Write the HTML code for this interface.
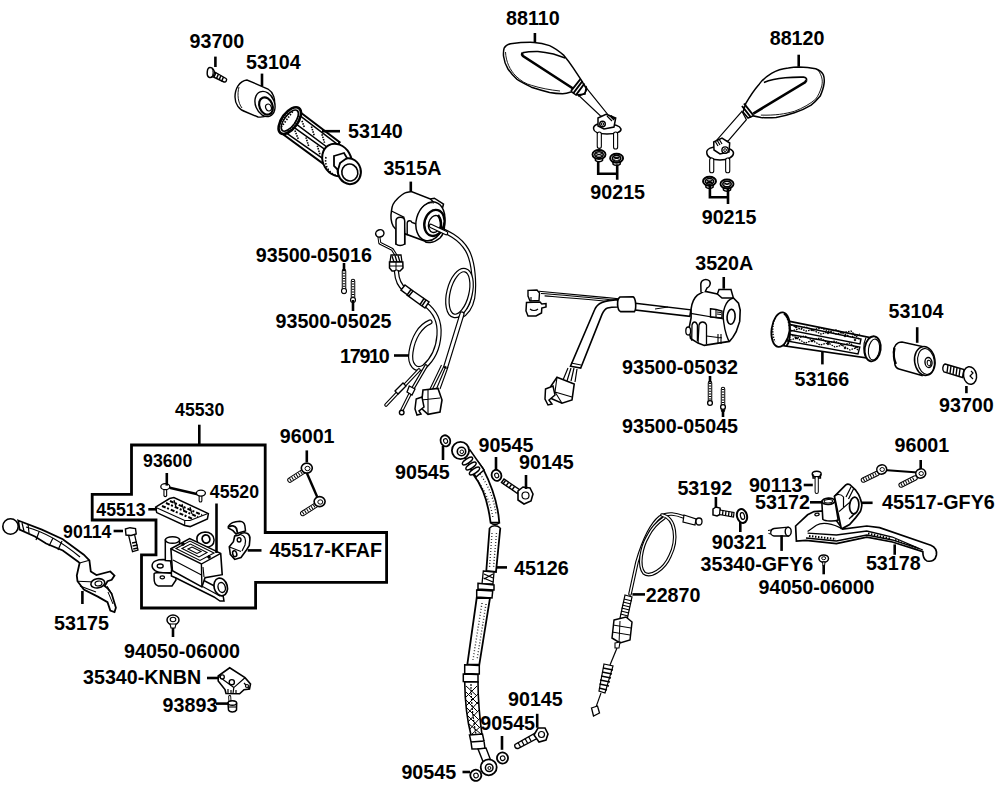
<!DOCTYPE html>
<html><head><meta charset="utf-8"><style>
html,body{margin:0;padding:0;background:#fff;width:1000px;height:788px;overflow:hidden}
svg{display:block}
text{font-family:"Liberation Sans",sans-serif;font-weight:bold;fill:#000}
</style></head><body>
<svg width="1000" height="788" viewBox="0 0 1000 788">
<rect width="1000" height="788" fill="#fff"/>
<path d="M213,71 L226,78.5 C227.5,79.5 226,82.5 224,82 L211,76 Z" fill="#fff" stroke="#000" stroke-width="1.4" /><path d="M216,72.5 L214,77 M218.5,74 L216.5,78.5 M221,75.5 L219,80 M223.5,77 L221.5,81.5" fill="none" stroke="#000" stroke-width="1.5" /><path d="M210,67.6 C213,67.6 214.5,70.5 214.3,73 C214,76 212,77.8 209.5,77.4 C207.5,77 207,74 207.3,71.5 C207.6,69 208.5,67.6 210,67.6 Z" fill="#fff" stroke="#000" stroke-width="1.5" /><path d="M212,68.5 C213.5,71 213.5,75 211.5,77" fill="none" stroke="#000" stroke-width="1.0" /><path d="M247,80 C239,81 235,89 235,97 C235,104 239,110 246,112 L258,117 C265,118 272,114 274,107 C276,99 273,92 268,89 Z" fill="#fff" stroke="#000" stroke-width="1.4" /><ellipse cx="265" cy="104" rx="9.5" ry="13" transform="rotate(-22 265 104)" fill="#fff" stroke="#000" stroke-width="1.4"/><ellipse cx="266" cy="106" rx="6.5" ry="9" transform="rotate(-22 266 106)" fill="#fff" stroke="#000" stroke-width="2.2"/><ellipse cx="268.5" cy="107.5" rx="2.8" ry="3.5" transform="rotate(-22 268.5 107.5)" fill="#fff" stroke="#000" stroke-width="1.2"/><path d="M239,87 C237,94 238,103 242,108" fill="none" stroke="#000" stroke-width="0.9" /><g transform="translate(290,122) rotate(36.2)"><path d="M0,-14 L52,-13 L52,14 L0,14 Z" fill="#fff" stroke="#000" stroke-width="2.0" /><path d="M5,-11 L50,-10 L50,-1.5 L5,-2 Z M5,2 L50,1.5 L50,10 L5,11 Z" fill="#fff" stroke="#000" stroke-width="1.5" /><path d="M9,-8 L15,-4 M20,-9 L28,-3 M33,-9 L41,-3 M9,4 L17,9 M22,3 L30,9 M36,3 L44,9" fill="none" stroke="#000" stroke-width="1.6" stroke-dasharray="1.5 1"/><path d="M52,-13 L52,14" fill="none" stroke="#000" stroke-width="1.6" /><ellipse cx="-1" cy="-1" rx="8" ry="15.5" fill="#fff" stroke="#000" stroke-width="2.6"/><ellipse cx="-1" cy="-1" rx="5.5" ry="12.5" fill="none" stroke="#000" stroke-width="1.6"/><path d="M-6,-8 C-7,-3 -7,3 -6,8 M4,-10 C5,-4 5,4 4,10" fill="none" stroke="#000" stroke-width="1.8" stroke-dasharray="1.2 1.2"/><path d="M-4,-10 L-4,10" fill="none" stroke="#000" stroke-width="1.6" stroke-dasharray="1.5 1.5"/></g><ellipse cx="337" cy="160" rx="14" ry="17" transform="rotate(-30 337 160)" fill="#fff" stroke="#000" stroke-width="2.0"/><path d="M326,157 C324,167 330,174 338,176" fill="none" stroke="#000" stroke-width="1.6" stroke-dasharray="1.5 1.5"/><ellipse cx="349.3" cy="171.2" rx="11.5" ry="13" transform="rotate(-15 349.3 171.2)" fill="#fff" stroke="#000" stroke-width="2.0"/><ellipse cx="349.8" cy="172.5" rx="8" ry="8.5" transform="rotate(-15 349.8 172.5)" fill="#fff" stroke="#000" stroke-width="1.6"/><path d="M334,156 L344,153 L347,158 L340,163 L338,170 L334,166 Z" fill="#fff" stroke="#000" stroke-width="1.8" /><path d="M432,226 C448,232 460,238 467,250 C474,262 475,285 473,298 C471,308 466,314 460,317" fill="none" stroke="#000" stroke-width="4.6" stroke-linecap="round" stroke-linejoin="round"/><path d="M432,226 C448,232 460,238 467,250 C474,262 475,285 473,298 C471,308 466,314 460,317" fill="none" stroke="#fff" stroke-width="2.2" stroke-linecap="round" stroke-linejoin="round"/><g transform="translate(459.5,293) rotate(14)"><ellipse cx="0" cy="0" rx="11" ry="23.5" fill="none" stroke="#000" stroke-width="4.6"/><ellipse cx="0" cy="0" rx="11" ry="23.5" fill="none" stroke="#fff" stroke-width="2.2"/></g><path d="M391.5,210.6 C392,205 394,202 396.5,199.8 C400,196 403,193.5 406.4,192.4 L411.3,191.6 L430.3,199 L434.4,198.2 L443.5,204 L442.7,207.3 L441,209 C446,218 446,232 440,238 C433,244 426,243 424.5,241 L404.7,233.7 L404.7,244 L396,244 L396,229.5 L393.2,226.2 C391,222 390.5,216 391.5,210.6 Z" fill="#fff" stroke="#000" stroke-width="1.5" /><path d="M391.5,211 L403.9,217.2 L404.7,233.7 M430.3,199 L441,209" fill="none" stroke="#000" stroke-width="1.3" /><path d="M396,244 L396,221 C396,216 404.7,216 404.7,221 L404.7,244 C402,246 398,246 396,244 Z" fill="#fff" stroke="#000" stroke-width="1.5" /><path d="M407.2,235.3 L407.2,223 C407.5,220 411,220 412,222.5 L416.3,224" fill="none" stroke="#000" stroke-width="1.4" /><ellipse cx="430.3" cy="221.3" rx="14" ry="19.8" transform="rotate(15 430.3 221.3)" fill="#fff" stroke="#000" stroke-width="1.5"/><path d="M420,210 C424,204 430,202 434,203" fill="none" stroke="#000" stroke-width="1.0" /><ellipse cx="434.4" cy="222.9" rx="9.9" ry="13.2" transform="rotate(15 434.4 222.9)" fill="#fff" stroke="#000" stroke-width="2.4"/><ellipse cx="434.8" cy="224" rx="6.2" ry="8.7" transform="rotate(15 434.8 224)" fill="#fff" stroke="#000" stroke-width="1.4"/><path d="M438,215 C441,219 442,226 440,230" fill="none" stroke="#000" stroke-width="2.6" /><path d="M431,226 L446,233" fill="none" stroke="#000" stroke-width="4.6" stroke-linecap="round" stroke-linejoin="round"/><path d="M431,226 L446,233" fill="none" stroke="#fff" stroke-width="2.2" stroke-linecap="round" stroke-linejoin="round"/><path d="M379,237.6 L379.8,243.1 L392.3,249.4 L396.5,256" fill="none" stroke="#000" stroke-width="3.0" stroke-linecap="round" stroke-linejoin="round"/><path d="M379,237.6 L379.8,243.1 L392.3,249.4 L396.5,256" fill="none" stroke="#fff" stroke-width="1.0" stroke-linecap="round" stroke-linejoin="round"/><ellipse cx="379.8" cy="233.4" rx="4.2" ry="3.6" transform="rotate(-20 379.8 233.4)" fill="#fff" stroke="#000" stroke-width="1.5"/><path d="M391,255 L401,255 L402,262 L390,262 Z" fill="#fff" stroke="#000" stroke-width="1.3" /><path d="M392,256 L394,262 M395,255.5 L397,262 M398,255.5 L400,262" fill="none" stroke="#000" stroke-width="1.3" /><path d="M389.5,262 L402.8,262 L403,268 L400,271 L392,271 L389.5,268 Z" fill="#fff" stroke="#000" stroke-width="1.5" /><path d="M389.5,266 H403 M396,262 V271" fill="none" stroke="#000" stroke-width="1.0" /><path d="M396.5,272 C397,280 400,286 405,290 L425,304 C436,312 440,322 439,335 C438,350 432,360 424,367 C416,372 409,365 411,352 C413,338 420,326 430,322" fill="none" stroke="#000" stroke-width="5.2" stroke-linecap="round" stroke-linejoin="round"/><path d="M396.5,272 C397,280 400,286 405,290 L425,304 C436,312 440,322 439,335 C438,350 432,360 424,367 C416,372 409,365 411,352 C413,338 420,326 430,322" fill="none" stroke="#fff" stroke-width="2.8" stroke-linecap="round" stroke-linejoin="round"/><path d="M405,285 L413,291 L409,296 L401,290 Z M411,289.5 L426,300 L422,306 L407,295 Z M424,298.5 L429,302 L425,308 L420,304.5 Z" fill="#fff" stroke="#000" stroke-width="1.5" /><path d="M426,366 L412,390 L402,410" fill="none" stroke="#000" stroke-width="3.6" stroke-linecap="round" stroke-linejoin="round"/><path d="M426,366 L412,390 L402,410" fill="none" stroke="#fff" stroke-width="1.4" stroke-linecap="round" stroke-linejoin="round"/><path d="M419,370 L386,405" fill="none" stroke="#000" stroke-width="3.6" stroke-linecap="round" stroke-linejoin="round"/><path d="M419,370 L386,405" fill="none" stroke="#fff" stroke-width="1.4" stroke-linecap="round" stroke-linejoin="round"/><path d="M395,391 L403,383 L406,386 L398,394 Z" fill="#fff" stroke="#000" stroke-width="1.3" /><path d="M409.3,386 L415,389 L412,395 L407,392 Z" fill="#fff" stroke="#000" stroke-width="1.3" /><circle cx="401.7" cy="412.5" r="2.3" fill="#fff" stroke="#000" stroke-width="1.4"/><path d="M462,314 L446,366" fill="none" stroke="#000" stroke-width="5.2" stroke-linecap="round" stroke-linejoin="round"/><path d="M462,314 L446,366" fill="none" stroke="#fff" stroke-width="2.8" stroke-linecap="round" stroke-linejoin="round"/><path d="M446,366 L436,390 M444,366 L432,390 M441.5,365 L430,389 M448,367 L440,389" fill="none" stroke="#000" stroke-width="1.1" /><path d="M423,390 L438,388.4 L442,400 L440,412 L428,414.3 L421,408 Z" fill="#fff" stroke="#000" stroke-width="1.6" /><path d="M421,400 L440,398 M428,390 L428,414" fill="none" stroke="#000" stroke-width="1.1" /><path d="M416.2,399 L422,397 L424,407 L419,411 L421,414 L417,415 L415,409 Z" fill="#fff" stroke="#000" stroke-width="1.5" /><line x1="344" y1="292" x2="344" y2="271" stroke="#000" stroke-width="4.5" stroke-linecap="round"/><line x1="344" y1="292" x2="344" y2="271" stroke="#fff" stroke-width="2.5" stroke-linecap="round" /><line x1="344" y1="292" x2="344" y2="271" stroke="#000" stroke-width="2.3" stroke-dasharray="1 1.6" /><circle cx="344" cy="291" r="2.5" fill="#fff" stroke="#000" stroke-width="1.1"/><line x1="353" y1="281" x2="353" y2="300" stroke="#000" stroke-width="4.5" stroke-linecap="round"/><line x1="353" y1="281" x2="353" y2="300" stroke="#fff" stroke-width="2.5" stroke-linecap="round" /><line x1="353" y1="281" x2="353" y2="300" stroke="#000" stroke-width="2.3" stroke-dasharray="1 1.6" /><circle cx="353" cy="300" r="2.5" fill="#fff" stroke="#000" stroke-width="1.1"/><path d="M584.7,85.9 L612,119.7 L600.3,115.8 L578.2,95 Z" fill="#fff" stroke="#000" stroke-width="1.2" /><path d="M504.1,48.2 C506,45 508,44.2 510.6,43.7 C520,42.5 528,42.2 534,42.4 C540,42.8 545,44 549.6,45.6 C555,48 560,52 563.9,55.4 C567,59 570,63 573,67.7 L580.8,79.4 L586,88 L585,94 L576,95 L571.7,91.8 C568,93 565,93.7 562.6,93.7 C556,93.5 553,93 549.6,92.4 C542,90.5 537,89 531.4,87.2 C526,84.5 521,82 517.1,79.4 C512,75 510,72 508,69 C505,64 504,60 503.5,56 C503.3,52 503.5,50 504.1,48.2 Z" fill="#fff" stroke="#000" stroke-width="1.5" /><path d="M505.5,52 C506,62 510,70 515.8,76 C521,81 526,84 531.4,85.3 C540,88 550,90 560,91" fill="none" stroke="#000" stroke-width="0.9" /><path d="M522.3,52.8 C527,51.8 532,51.4 537.9,51.5 C544,52 549,53 553.5,54 L565.2,58" fill="none" stroke="#000" stroke-width="1.6" /><path d="M522.3,52.8 C521.8,54 522,55 523,56 L573,88.5" fill="none" stroke="#000" stroke-width="2.6" /><path d="M580.5,79 L571,91 M582.5,81 L573.5,93 M584.5,83.5 L576,95" fill="none" stroke="#000" stroke-width="2.0" /><path d="M586,86 C588,90 585,95 578,96" fill="none" stroke="#000" stroke-width="1.3" /><path d="M593.6,129 C593,125 598,123 606,123.5 C614,124 620,126 621,129 C621.5,132 616,134 607,134.1 C598,134 594,132 593.6,129 Z" fill="#fff" stroke="#000" stroke-width="1.5" /><path d="M598,118 L606,114.4 L615.7,118 L614,127 L604,129 L598,126 Z" fill="#fff" stroke="#000" stroke-width="1.5" /><circle cx="602.5" cy="124" r="2.8" fill="#fff" stroke="#000" stroke-width="1.4"/><circle cx="602.5" cy="124" r="1.2" fill="#fff" stroke="#000" stroke-width="1.0"/><path d="M607,116 L612,121 M609,115 L614,120 M611,115.5 L615,119" fill="none" stroke="#000" stroke-width="1.2" /><path d="M599.3,134 V146.3 M615.6,134 V147" fill="none" stroke="#000" stroke-width="5.2" stroke-linecap="round" stroke-linejoin="round"/><path d="M599.3,134 V146.3 M615.6,134 V147" fill="none" stroke="#fff" stroke-width="3.0" stroke-linecap="round" stroke-linejoin="round"/><path d="M595,155.5 L595.5,160.5 C597,162.0 601,162.0 602.5,160.5 L603,155.5 Z" fill="#fff" stroke="#000" stroke-width="1.5" /><ellipse cx="599" cy="154.5" rx="6.5" ry="4.5" fill="#fff" stroke="#000" stroke-width="1.9"/><ellipse cx="599" cy="154.5" rx="4.2" ry="2.8" fill="#fff" stroke="#000" stroke-width="1.6"/><path d="M596,153.5 L602,155.5 M596,155.5 L602,153.5" fill="none" stroke="#000" stroke-width="1.3" /><path d="M596.5,158.5 H601.5" fill="none" stroke="#000" stroke-width="1.0" /><path d="M612.6,159.2 L613.1,164.2 C614.6,165.7 618.6,165.7 620.1,164.2 L620.6,159.2 Z" fill="#fff" stroke="#000" stroke-width="1.5" /><ellipse cx="616.6" cy="158.2" rx="6.5" ry="4.5" fill="#fff" stroke="#000" stroke-width="1.9"/><ellipse cx="616.6" cy="158.2" rx="4.2" ry="2.8" fill="#fff" stroke="#000" stroke-width="1.6"/><path d="M613.6,157.2 L619.6,159.2 M613.6,159.2 L619.6,157.2" fill="none" stroke="#000" stroke-width="1.3" /><path d="M614.1,162.2 H619.1" fill="none" stroke="#000" stroke-width="1.0" /><path d="M741.9,111.3 L716.7,140.2 L728.2,141 L746.4,119.7 Z" fill="#fff" stroke="#000" stroke-width="1.2" /><path d="M745.7,103.7 C750,96 754,90 759.4,83.9 C763,79 767,76 771.5,73.3 C777,70 782,68.5 788.3,67.9 C792,67.3 795,67 798.9,66.9 C805,67 810,67.5 815.7,68.7 C819,70 822,72 823.3,74.8 C824.5,78 824.5,81 824,83.9 C823.5,88 822,92 820.2,96.1 C817,100 814,103 811.1,105.2 C805,109 800,111 794.4,112.8 C788,115 782,116.5 776.1,117.4 C770,118 765,118 760.9,117.4 L753.3,115.9 L748,118 L743,112 Z" fill="#fff" stroke="#000" stroke-width="1.5" /><path d="M818,70 C822,76 823,80 821.8,86 C820,92 818,96 815.7,99.1 C810,104 803,108 794.4,111.3 C785,114 775,115.5 760.9,115.1" fill="none" stroke="#000" stroke-width="0.9" /><path d="M763.9,82.4 C770,80 778,78.5 785.2,77.8 C791,77.2 797,77 803.5,77.1 C806,77.5 807,79 806.5,80.1" fill="none" stroke="#000" stroke-width="1.6" /><path d="M806.5,80.1 L805,82.4 L753.3,113.6" fill="none" stroke="#000" stroke-width="2.6" /><path d="M744,103.5 L753.5,115.5 M742,106 L751,117.5" fill="none" stroke="#000" stroke-width="2.0" /><path d="M706.8,153 C706,149 712,146.3 720,146.5 C728,147 733.5,150 733.5,153 C733.5,157 728,160 720,160 C712,160 707,157 706.8,153 Z" fill="#fff" stroke="#000" stroke-width="1.5" /><path d="M713.7,142 L722,138 L729.7,143 L729,152 L720,153.9 L714,150 Z" fill="#fff" stroke="#000" stroke-width="1.5" /><circle cx="725.1" cy="150.1" r="3.2" fill="#fff" stroke="#000" stroke-width="1.4"/><circle cx="725.1" cy="150.1" r="1.4" fill="#fff" stroke="#000" stroke-width="1.0"/><path d="M715,141 L718,146 M717,140 L720,145 M719,139 L722,144" fill="none" stroke="#000" stroke-width="1.2" /><path d="M711.7,160 V170.7 M727.7,160 V170.7" fill="none" stroke="#000" stroke-width="5.2" stroke-linecap="round" stroke-linejoin="round"/><path d="M711.7,160 V170.7 M727.7,160 V170.7" fill="none" stroke="#fff" stroke-width="3.0" stroke-linecap="round" stroke-linejoin="round"/><path d="M705.5,182.3 L706.0,187.3 C707.5,188.8 711.5,188.8 713.0,187.3 L713.5,182.3 Z" fill="#fff" stroke="#000" stroke-width="1.5" /><ellipse cx="709.5" cy="181.3" rx="6.5" ry="4.5" fill="#fff" stroke="#000" stroke-width="1.9"/><ellipse cx="709.5" cy="181.3" rx="4.2" ry="2.8" fill="#fff" stroke="#000" stroke-width="1.6"/><path d="M706.5,180.3 L712.5,182.3 M706.5,182.3 L712.5,180.3" fill="none" stroke="#000" stroke-width="1.3" /><path d="M707.0,185.3 H712.0" fill="none" stroke="#000" stroke-width="1.0" /><path d="M723,185 L723.5,190 C725,191.5 729,191.5 730.5,190 L731,185 Z" fill="#fff" stroke="#000" stroke-width="1.5" /><ellipse cx="727" cy="184" rx="6.5" ry="4.5" fill="#fff" stroke="#000" stroke-width="1.9"/><ellipse cx="727" cy="184" rx="4.2" ry="2.8" fill="#fff" stroke="#000" stroke-width="1.6"/><path d="M724,183 L730,185 M724,185 L730,183" fill="none" stroke="#000" stroke-width="1.3" /><path d="M724.5,188 H729.5" fill="none" stroke="#000" stroke-width="1.0" /><path d="M539,291.3 C560,293 590,296 618.6,298.7 M544.6,295.9 C570,298 595,300 617.7,302.4 M541,293.5 C565,295 592,298 618,300.5" fill="none" stroke="#000" stroke-width="1.1" /><path d="M528,290.4 L537,290 L539.5,293 L539,300.5 L530,301 L528,296 Z" fill="#fff" stroke="#000" stroke-width="1.4" /><path d="M526.5,302.4 L540,302 L541.8,304 L546,303.5 L546,307 L541.8,308 L541.5,313 L536,316 L528,316 L526,311 Z" fill="#fff" stroke="#000" stroke-width="1.5" /><path d="M530,309 C532,311 536,311 538,309 M531,297 L531,301" fill="none" stroke="#000" stroke-width="1.1" /><path d="M617.7,299.6 C612,300 606,301 602,302.4 C598,304 596,306 594.6,309.8 L570.5,366.2 L580.7,368 L602,314.4 C604,310 606,308.5 607.5,308 C611,307 614,307 617.7,307 Z" fill="#fff" stroke="#000" stroke-width="1.6" /><path d="M571,363 L581,365" fill="none" stroke="#000" stroke-width="1.1" /><path d="M568,368 L563,380 M571,368 L567,381 M574,368 L571,381 M577,369 L575,382" fill="none" stroke="#000" stroke-width="1.2" /><path d="M557,377.3 L574.2,384 L572,400 L562,403.2 L550,398 L551,386 Z" fill="#fff" stroke="#000" stroke-width="1.6" /><path d="M557,377.3 L555,392 L562,403.2 M555,392 L572,397" fill="none" stroke="#000" stroke-width="1.1" /><path d="M545.5,389 L553,386 L555,395 L549,400 L552,404 L548,405 L545,399 Z" fill="#fff" stroke="#000" stroke-width="1.5" /><path d="M635.3,303.3 L690.8,309.8 L689.8,316.3 L633.4,309.8 Z" fill="#fff" stroke="#000" stroke-width="1.5" /><path d="M655,309 L668,307" fill="none" stroke="#000" stroke-width="1.0" /><path d="M620,297 L633,296.8 C636,298 636.5,309 634.5,311.6 L620.5,311.6 C617,310 616.5,299 620,297 Z" fill="#fff" stroke="#000" stroke-width="1.6" /><path d="M691.1,308.8 C692,302 694,298 697.4,295.1 L704.3,291.1 L717.4,294 L733.4,298 L738.5,303.1 L740.2,310 L739.7,321.4 L736.2,331.7 L732.8,337.4 L729.4,341.4 L704.3,345.4 L698,343.1 L690.6,338.5 L688.8,329.4 L691.1,318 Z" fill="#fff" stroke="#000" stroke-width="1.6" /><path d="M701,292 L700.8,284 C701,280 706,278 709.5,281 C711,283 710,287 707,288 L705,292" fill="#fff" stroke="#000" stroke-width="1.5" /><path d="M717.4,294 L719,289.4 L731,289.6 L733.4,298 L722,298 Z" fill="#fff" stroke="#000" stroke-width="1.5" /><path d="M733.4,298 C725,300 722,312 723.7,322 C725,333 728,340 729.4,341.4" fill="none" stroke="#000" stroke-width="1.4" /><ellipse cx="731.1" cy="316.8" rx="4" ry="7.5" transform="rotate(5 731.1 316.8)" fill="#fff" stroke="#000" stroke-width="1.6"/><path d="M710.5,308.8 L716,309.5 L722,311 L722,318 L710.5,317 Z" fill="#fff" stroke="#000" stroke-width="1.4" /><path d="M716,309.5 L716,318 M717,312 L721,312.5 M717,314 L721,314.5" fill="none" stroke="#000" stroke-width="1.1" /><path d="M690.6,313.4 L723.7,319" fill="none" stroke="#000" stroke-width="1.2" /><path d="M691.7,340.8 L692,325 C693,321 696,321 697.4,325 L697.4,341 M698,343 L699,325 C700,321 705,321 706.5,325 L706.5,344" fill="none" stroke="#000" stroke-width="1.3" /><ellipse cx="688.2" cy="331" rx="2.4" ry="4" fill="#fff" stroke="#000" stroke-width="1.3"/><path d="M706.5,336 L722,338 M718,334 L718,344 M721,334 L721,344" fill="none" stroke="#000" stroke-width="1.1" /><line x1="710" y1="383" x2="710" y2="403" stroke="#000" stroke-width="4.5" stroke-linecap="round"/><line x1="710" y1="383" x2="710" y2="403" stroke="#fff" stroke-width="2.5" stroke-linecap="round" /><line x1="710" y1="383" x2="710" y2="403" stroke="#000" stroke-width="2.3" stroke-dasharray="1 1.6" /><circle cx="710" cy="403" r="2.4" fill="#fff" stroke="#000" stroke-width="1.3"/><line x1="723" y1="389" x2="723" y2="410" stroke="#000" stroke-width="4.5" stroke-linecap="round"/><line x1="723" y1="389" x2="723" y2="410" stroke="#fff" stroke-width="2.5" stroke-linecap="round" /><line x1="723" y1="389" x2="723" y2="410" stroke="#000" stroke-width="2.3" stroke-dasharray="1 1.6" /><circle cx="723" cy="407" r="2.4" fill="#fff" stroke="#000" stroke-width="1.3"/><path d="M786,320.6 L869.4,337.4 L865.8,357.8 L784,345.8 Z" fill="#fff" stroke="#000" stroke-width="1.8" /><path d="M789,324.2 L861,339 L860,344 L788.5,330 Z M787.8,334 L859.8,347 L858,354 L787,341 Z" fill="#fff" stroke="#000" stroke-width="1.4" /><path d="M791,325 L806,331 L821,328 L836,334 L851,331 L860,340 M791,331 L806,327 L821,334 L836,330 L851,337 L860,334 M790,334 L805,343 L820,338 L835,347 L850,343 L858,350 M790,340 L805,336 L820,345 L835,341 L850,350 L858,347" fill="none" stroke="#000" stroke-width="1.3" stroke-dasharray="1.6 1"/><circle cx="796" cy="327" r="0.9" fill="#000" stroke="#000" stroke-width="0.6"/><circle cx="812" cy="330" r="0.9" fill="#000" stroke="#000" stroke-width="0.6"/><circle cx="828" cy="333" r="0.9" fill="#000" stroke="#000" stroke-width="0.6"/><circle cx="845" cy="336" r="0.9" fill="#000" stroke="#000" stroke-width="0.6"/><circle cx="796" cy="338" r="0.9" fill="#000" stroke="#000" stroke-width="0.6"/><circle cx="812" cy="341" r="0.9" fill="#000" stroke="#000" stroke-width="0.6"/><circle cx="828" cy="344" r="0.9" fill="#000" stroke="#000" stroke-width="0.6"/><circle cx="845" cy="348" r="0.9" fill="#000" stroke="#000" stroke-width="0.6"/><circle cx="855" cy="340" r="0.9" fill="#000" stroke="#000" stroke-width="0.6"/><ellipse cx="780.6" cy="329.6" rx="9" ry="17.4" transform="rotate(8 780.6 329.6)" fill="#fff" stroke="#000" stroke-width="1.8"/><path d="M784,313.5 C791,318 792,340 786,346.5" fill="none" stroke="#000" stroke-width="1.8" /><path d="M784,314 C790,318 792,340 787,346" fill="none" stroke="#000" stroke-width="1.4" stroke-dasharray="1.5 1.5"/><path d="M775,318 C772,325 772,335 775,342" fill="none" stroke="#000" stroke-width="1.5" stroke-dasharray="1.2 1.5"/><ellipse cx="872.7" cy="348.8" rx="8" ry="12.6" transform="rotate(8 872.7 348.8)" fill="#fff" stroke="#000" stroke-width="1.8"/><ellipse cx="874" cy="349.5" rx="5.5" ry="10.5" transform="rotate(8 874 349.5)" fill="none" stroke="#000" stroke-width="1.1"/><path d="M866,337.5 C863,344 863,353 866,358" fill="none" stroke="#000" stroke-width="1.1" /><path d="M902,342 C897,342 893.5,346 893.5,352 L895,365 C896,368 897,368.5 899,369 L922,375.5 L927,347.5 Z" fill="#fff" stroke="#000" stroke-width="1.5" /><path d="M894.5,348 C893.5,353 894,360 896,364" fill="none" stroke="#000" stroke-width="2.2" /><ellipse cx="924.8" cy="361" rx="10.2" ry="14.5" transform="rotate(-8 924.8 361)" fill="#fff" stroke="#000" stroke-width="1.5"/><ellipse cx="926" cy="361.5" rx="8.3" ry="13" transform="rotate(-8 926 361.5)" fill="none" stroke="#000" stroke-width="1.1"/><ellipse cx="928.5" cy="362.5" rx="3.5" ry="5" transform="rotate(-8 928.5 362.5)" fill="#fff" stroke="#000" stroke-width="1.4"/><ellipse cx="929" cy="363" rx="1.8" ry="2.8" transform="rotate(-8 929 363)" fill="#fff" stroke="#000" stroke-width="1.0"/><path d="M945,364 L964,369.5 L962.5,377.5 L944,372 C942,370 942.5,365 945,364 Z" fill="#fff" stroke="#000" stroke-width="1.4" /><path d="M948,365 L947,372.5 M951,366 L950,373.5 M954,367 L953,374.5 M957,368 L956,375.5 M960,369 L959,376.5" fill="none" stroke="#000" stroke-width="1.4" /><ellipse cx="970" cy="375.5" rx="6.5" ry="8.8" transform="rotate(-10 970 375.5)" fill="#fff" stroke="#000" stroke-width="1.5"/><path d="M971,371 L973,373 L970,376 L973,379" fill="none" stroke="#000" stroke-width="1.2" /><path d="M18.2,520.5 L41.9,529.6 L62.8,539.3 L83.8,554.7 L89.4,560.3 L90.8,571.5 L96.4,575 L110.3,571.5 L114.5,575.6 L111.7,579.8 L107.5,581.2 L104.7,586.1 L107.5,588.2 L111.7,593.8 L115.9,607.8 L114.5,612 L110.3,610.6 L107.5,602.2 L97.8,596.6 L83.8,589.6 L77.5,581.2 L76.8,575.6 L79.6,563 L78.2,561.7 L62.8,550.5 L46.1,543.5 L34.9,536.5 L19.6,529.6 Z" fill="#fff" stroke="#000" stroke-width="1.8" /><circle cx="10.5" cy="526.5" r="7.7" fill="#fff" stroke="#000" stroke-width="1.6"/><path d="M22,523 L24,531 M28,524 L29,533 M39,532 L36,540 M53,538 L49,546 M62,541 L58,550 M26,527 C45,532 62,542 80,557" fill="none" stroke="#000" stroke-width="1.2" /><path d="M79.6,563 L89.4,560.3 M77.5,581.2 L96,582 M80,586 L96,592" fill="none" stroke="#000" stroke-width="1.1" /><ellipse cx="97.8" cy="583.3" rx="7" ry="4.6" transform="rotate(-10 97.8 583.3)" fill="#fff" stroke="#000" stroke-width="1.6"/><ellipse cx="98.5" cy="583.5" rx="3.5" ry="2.4" transform="rotate(-10 98.5 583.5)" fill="#fff" stroke="#000" stroke-width="1.2"/><path d="M107,586 L112,594 M108,592 L113,604" fill="none" stroke="#000" stroke-width="1.0" /><path d="M128.6,535.2 L134.5,534.2 L138,550 L132.5,551.6 Z" fill="#fff" stroke="#000" stroke-width="1.3" /><path d="M125.4,529 L130,527.7 L135.5,528.5 L136.2,534 L131,535.5 L126,535 Z" fill="#fff" stroke="#000" stroke-width="1.4" /><path d="M132,543 L137,542 M132.6,546 L137.6,545 M133.2,549 L138,548" fill="none" stroke="#000" stroke-width="1.3" /><path d="M169.6,487.7 L197.7,494.2" fill="none" stroke="#000" stroke-width="2.6" /><path d="M165.3,488 V495.3" fill="none" stroke="#000" stroke-width="3.8" stroke-linecap="round" stroke-linejoin="round"/><path d="M165.3,488 V495.3" fill="none" stroke="#fff" stroke-width="1.6" stroke-linecap="round" stroke-linejoin="round"/><ellipse cx="165.3" cy="486.7" rx="4.5" ry="3" fill="#fff" stroke="#000" stroke-width="1.3"/><path d="M200.5,494 V500.7" fill="none" stroke="#000" stroke-width="3.8" stroke-linecap="round" stroke-linejoin="round"/><path d="M200.5,494 V500.7" fill="none" stroke="#fff" stroke-width="1.6" stroke-linecap="round" stroke-linejoin="round"/><ellipse cx="200.9" cy="493.1" rx="4.5" ry="3" fill="#fff" stroke="#000" stroke-width="1.3"/><path d="M155.6,507.2 L169.6,498.5 L173.9,497.5 L208.4,513.6 L207.4,519 L190.1,526.6 L184.7,525.5 L156.7,512.6 Z" fill="#fff" stroke="#000" stroke-width="1.5" /><path d="M156,507.5 L184.7,520.5 L190,520.5 L208,513.5 M184.7,520.5 V525.5" fill="none" stroke="#000" stroke-width="1.1" /><path d="M166,503 L198,517 M170,501 L202,515 M162,506 L193,519" fill="none" stroke="#000" stroke-width="2.0" stroke-dasharray="4 1.5 2 2"/><path d="M174,500 L176,507 M182,504 L184,511 M190,507 L192,514" fill="none" stroke="#000" stroke-width="1.2" /><path d="M197,540 C196,535 200,532.5 205,532 C210,532 214,535 214.1,540 C214,545 210,547.3 205,547.3 C200,547 197.5,544 197,540 Z" fill="#fff" stroke="#000" stroke-width="1.5" /><ellipse cx="206" cy="539" rx="3.8" ry="4.2" transform="rotate(-20 206 539)" fill="#fff" stroke="#000" stroke-width="1.8"/><path d="M152.1,566 C152,561 158,559.5 163,559.5 L170.4,560 L172,572.7 L163,572.7 C157,572.7 152.3,570 152.1,566 Z" fill="#fff" stroke="#000" stroke-width="1.5" /><ellipse cx="160.2" cy="566" rx="3" ry="2" fill="#fff" stroke="#000" stroke-width="1.3"/><path d="M154.1,574 C154,572.7 158,572.7 162,572.7 L175.5,573.5 L176,580 L172,585.9 L158,585.9 C155,585 154,582 154.1,578 Z" fill="#fff" stroke="#000" stroke-width="1.5" /><ellipse cx="162.3" cy="577.3" rx="2.2" ry="1.5" fill="#fff" stroke="#000" stroke-width="1.2"/><path d="M165.3,540 L165.3,560.5 L172,561 L179.6,548 L179.6,540 Z" fill="#fff" stroke="#000" stroke-width="1.5" /><ellipse cx="172.5" cy="540" rx="7.1" ry="3.3" fill="#fff" stroke="#000" stroke-width="1.5"/><path d="M171.4,570.7 L176,566 L222.2,590 L224,601.1 L220,601 L214,597 L176,578 L171.4,576 Z" fill="#fff" stroke="#000" stroke-width="1.5" /><path d="M176,572 L220,596" fill="none" stroke="#000" stroke-width="1.1" /><path d="M170.9,548.8 L189.7,538.6 L220.7,553.4 L222.2,574.7 L205,577.8 L201.9,586.9 L172.4,570.7 Z" fill="#fff" stroke="#000" stroke-width="1.6" /><path d="M170.9,548.8 L201.4,564 L220.7,553.4 M201.4,564 L201.9,586.9" fill="none" stroke="#000" stroke-width="1.4" /><path d="M176,548.5 L190,541 L214,553 L200,560.5 Z M182,548.5 L190.5,544 L207,552.5 L199,557 Z M188,549 L192,547 L201,551.5 L197,553.5 Z" fill="none" stroke="#000" stroke-width="1.1" /><circle cx="183" cy="544" r="1.3" fill="#000" stroke="#000" stroke-width="1.0"/><circle cx="209" cy="557" r="1.3" fill="#000" stroke="#000" stroke-width="1.0"/><path d="M203,567 L204,577 M173,560 L201.5,575" fill="none" stroke="#000" stroke-width="1.1" /><ellipse cx="220.7" cy="586.9" rx="6.6" ry="9" transform="rotate(-15 220.7 586.9)" fill="#fff" stroke="#000" stroke-width="1.7"/><ellipse cx="221.7" cy="587.5" rx="3.6" ry="5" transform="rotate(-15 221.7 587.5)" fill="#fff" stroke="#000" stroke-width="1.4"/><path d="M228.3,526.4 C230,523.5 235,521.5 239.8,521.3 C242.5,521.5 244.5,523.5 244.9,525.8 L245.5,530.9 L240,532.5 L236,534 C234,531 231,529 228.3,528 Z" fill="#fff" stroke="#000" stroke-width="1.5" /><path d="M229,527 C231,525 235,525.5 236.5,528.5 L237.5,533" fill="none" stroke="#000" stroke-width="1.8" /><path d="M238.5,535.3 C241,533 245,532.5 247.4,533.4 C249.5,535 250.2,537 249.9,539.1 L249.3,545.5 L246.1,550.6 L241,557.5 L234.7,559.4 L230.3,554.4 L229.3,546.7 L233.4,541.7 L234.7,536 Z" fill="#fff" stroke="#000" stroke-width="1.6" /><path d="M240,534.5 C245,535 246.5,540 245,545 L242,551 M229.5,547 L241,551.5" fill="none" stroke="#000" stroke-width="1.2" /><ellipse cx="239.1" cy="539.8" rx="1.9" ry="2.2" fill="#fff" stroke="#000" stroke-width="1.4"/><ellipse cx="234.7" cy="553.7" rx="2.0" ry="3.0" transform="rotate(-15 234.7 553.7)" fill="#fff" stroke="#000" stroke-width="1.5"/><path d="M306.8,473 L317.6,497.7" fill="none" stroke="#000" stroke-width="2.4" /><line x1="290" y1="480" x2="304" y2="471" stroke="#000" stroke-width="5.5" stroke-linecap="round"/><line x1="290" y1="480" x2="304" y2="471" stroke="#fff" stroke-width="3.5" stroke-linecap="round" /><line x1="290" y1="480" x2="304" y2="471" stroke="#000" stroke-width="3.3" stroke-dasharray="1 1.6" /><ellipse cx="306.8" cy="468.1" rx="5.5" ry="5" fill="#fff" stroke="#000" stroke-width="1.6"/><ellipse cx="307.5" cy="468.5" rx="2.5" ry="2.2" fill="#fff" stroke="#000" stroke-width="1.0"/><line x1="302.8" y1="513.4" x2="316" y2="505" stroke="#000" stroke-width="5.5" stroke-linecap="round"/><line x1="302.8" y1="513.4" x2="316" y2="505" stroke="#fff" stroke-width="3.5" stroke-linecap="round" /><line x1="302.8" y1="513.4" x2="316" y2="505" stroke="#000" stroke-width="3.3" stroke-dasharray="1 1.6" /><ellipse cx="319.6" cy="501.6" rx="5.5" ry="5" fill="#fff" stroke="#000" stroke-width="1.6"/><ellipse cx="320.3" cy="502" rx="2.5" ry="2.2" fill="#fff" stroke="#000" stroke-width="1.0"/><ellipse cx="173" cy="620" rx="6" ry="5" fill="#fff" stroke="#000" stroke-width="1.5"/><ellipse cx="173" cy="619.5" rx="2.8" ry="2.2" fill="#fff" stroke="#000" stroke-width="1.1"/><path d="M170,624 L176,624 L175,628 L171,628 Z" fill="#fff" stroke="#000" stroke-width="1.1" /><path d="M218.2,676 L229.7,667.8 L245,677.7 L250.5,684 L249.5,689 L244,689.7 L239.6,693.8 L226,693.5 L225,689.5 L218.2,681 Z" fill="#fff" stroke="#000" stroke-width="1.6" /><path d="M218.2,676 L233.8,687.6 L245,677.7 M233.8,687.6 L233,693.5 M244,683 L249.5,689" fill="none" stroke="#000" stroke-width="1.2" /><circle cx="231.8" cy="682.2" r="2.6" fill="#fff" stroke="#000" stroke-width="1.4"/><circle cx="222.3" cy="676.9" r="2.0" fill="#fff" stroke="#000" stroke-width="1.3"/><path d="M228,689 L228,693 M231,690 L231,694 M236,690 L236,694" fill="none" stroke="#000" stroke-width="1.2" /><circle cx="247" cy="686" r="1.5" fill="#fff" stroke="#000" stroke-width="1.2"/><path d="M229.7,696.5 L230,702" fill="none" stroke="#000" stroke-width="3" stroke-linecap="round" stroke-linejoin="round"/><path d="M229.7,696.5 L230,702" fill="none" stroke="#fff" stroke-width="1.2" stroke-linecap="round" stroke-linejoin="round"/><path d="M228,703 C228,700.5 236.5,700.5 236.7,703 L236.5,710 C235,712.5 229.5,712.5 228.5,710 Z" fill="#fff" stroke="#000" stroke-width="1.5" /><ellipse cx="232.3" cy="703" rx="4.2" ry="2.2" fill="#fff" stroke="#000" stroke-width="1.4"/><path d="M228.5,707 L236.5,707" fill="none" stroke="#000" stroke-width="1.1" /><ellipse cx="445.4" cy="440.8" rx="4.8" ry="5.6" transform="rotate(-20 445.4 440.8)" fill="#fff" stroke="#000" stroke-width="1.8"/><ellipse cx="445.6" cy="441" rx="2" ry="2.3" transform="rotate(-20 445.6 441)" fill="#fff" stroke="#000" stroke-width="1.1"/><ellipse cx="496.5" cy="475.3" rx="4.8" ry="5.6" transform="rotate(-20 496.5 475.3)" fill="#fff" stroke="#000" stroke-width="1.8"/><ellipse cx="496.7" cy="475.5" rx="2" ry="2.3" transform="rotate(-20 496.7 475.5)" fill="#fff" stroke="#000" stroke-width="1.1"/><path d="M501.5,482.5 L504,479 L520,490 L517.5,493.5 Z" fill="#fff" stroke="#000" stroke-width="1.4" /><path d="M505.5,480.5 L503,484 M508.5,482.5 L506,486 M511.5,484.5 L509,488 M514.5,486.5 L512,490" fill="none" stroke="#000" stroke-width="1.3" /><path d="M518,491 L523,487 L530,488 L533,494 L531,501 L524,504 L518,500 Z" fill="#fff" stroke="#000" stroke-width="1.6" /><circle cx="525.5" cy="495.5" r="3.5" fill="#fff" stroke="#000" stroke-width="1.2"/><path d="M470,466 L472.3,473 C480,483 487,495 490.6,522.7 L499.3,522.7 C498,505 493,488 483.1,468.8 L478,462 Z" fill="#fff" stroke="#000" stroke-width="1.8" /><path d="M476,478 C483,488 490,500 493,518 M480,474 C488,485 494,498 496,515" fill="none" stroke="#000" stroke-width="1.4" stroke-dasharray="0.8 2.2"/><path d="M490.6,522.7 C493,525 497,525 499.3,522.7 M489.6,528 C492,525 497,525 500.3,528" fill="none" stroke="#000" stroke-width="1.4" /><path d="M489.6,528 L486.3,571 L496,572 L500.3,528" fill="#fff" stroke="#000" stroke-width="1.8" /><path d="M492,533 L489.5,568 M496.5,533 L493.5,568" fill="none" stroke="#000" stroke-width="1.4" stroke-dasharray="0.8 2.2"/><path d="M463,454 L470,450 L484,470 L476,477 Z" fill="#fff" stroke="#000" stroke-width="1.5" /><ellipse cx="467.5" cy="461" rx="6" ry="2.2" transform="rotate(-35 467.5 461)" fill="#fff" stroke="#000" stroke-width="1.5"/><ellipse cx="471" cy="466" rx="6" ry="2.2" transform="rotate(-35 471 466)" fill="#fff" stroke="#000" stroke-width="1.5"/><ellipse cx="474.5" cy="471" rx="6" ry="2.2" transform="rotate(-35 474.5 471)" fill="#fff" stroke="#000" stroke-width="1.5"/><circle cx="460.5" cy="450.5" r="8.6" fill="#fff" stroke="#000" stroke-width="1.8"/><circle cx="461.5" cy="451.5" r="4.2" fill="#fff" stroke="#000" stroke-width="1.6"/><circle cx="461.8" cy="451.8" r="1.8" fill="#fff" stroke="#000" stroke-width="1.0"/><path d="M483.3,571 L494,572 L493,584 L482,584 Z" fill="#fff" stroke="#000" stroke-width="1.3" /><path d="M484,574 L493,578 M483.5,578 L493,582 M493,574 L484,579" fill="none" stroke="#000" stroke-width="1.2" /><path d="M478,583.3 L494,585 L494,590 L478,589 Z M476.7,590 L492.7,591 L492,598 L476.7,597 Z" fill="#fff" stroke="#000" stroke-width="1.5" /><path d="M476.7,598 L467.3,664.7 L479.3,664.7 L490,598 Z" fill="#fff" stroke="#000" stroke-width="1.8" /><path d="M482,603 L473,660 M486,604 L477,660" fill="none" stroke="#000" stroke-width="1.4" stroke-dasharray="0.8 2.2"/><path d="M464.7,664.7 L479.3,665.5 L479.3,674 L464.7,673.5 Z M463.3,674 L478,674.5 L478,682 L463.3,681.5 Z" fill="#fff" stroke="#000" stroke-width="1.5" /><path d="M464.7,682 C465,700 467,720 471,735 L482,735 C480,720 478,700 478,682 Z" fill="#fff" stroke="#000" stroke-width="1.6" /><path d="M466,686 L477,696 M466,692 L478,704 M466,700 L478,712 M467,708 L479,720 M468,716 L480,728 M469,724 L481,734 M477,686 L466,697 M478,694 L466,706 M478,702 L467,714 M479,710 L468,722 M480,718 L469,730 M481,726 L472,734" fill="none" stroke="#000" stroke-width="1.0" /><path d="M471,684 C471,700 473,720 476,734" fill="none" stroke="#000" stroke-width="1.2" stroke-dasharray="2 1"/><path d="M469.5,735 L482.5,734 L484,741 L471,742 Z M471,742 L484,741 L485,748.7 L472,749 Z" fill="#fff" stroke="#000" stroke-width="1.5" /><path d="M478,749 L486,748 L491,761 L484,764 Z" fill="#fff" stroke="#000" stroke-width="1.4" /><circle cx="488.7" cy="767.3" r="8" fill="#fff" stroke="#000" stroke-width="1.8"/><circle cx="489.2" cy="767.8" r="3.8" fill="#fff" stroke="#000" stroke-width="1.5"/><circle cx="489.4" cy="768" r="1.5" fill="#fff" stroke="#000" stroke-width="1.0"/><ellipse cx="475.8" cy="775.3" rx="5.5" ry="5.6" transform="rotate(-20 475.8 775.3)" fill="#fff" stroke="#000" stroke-width="1.8"/><ellipse cx="476" cy="775.5" rx="2.3" ry="2.3" transform="rotate(-20 476 775.5)" fill="#fff" stroke="#000" stroke-width="1.1"/><ellipse cx="502.5" cy="758" rx="5.5" ry="5.6" transform="rotate(-20 502.5 758)" fill="#fff" stroke="#000" stroke-width="1.8"/><ellipse cx="502.7" cy="758.2" rx="2.3" ry="2.3" transform="rotate(-20 502.7 758.2)" fill="#fff" stroke="#000" stroke-width="1.1"/><path d="M515,744.5 C514,746 515.5,749 518,748.5 L537,738.5 L534.5,733.5 Z" fill="#fff" stroke="#000" stroke-width="1.4" /><path d="M518,742.5 L520.5,747 M521.5,740.5 L524,745 M525,738.5 L527.5,743 M528.5,736.5 L531,741" fill="none" stroke="#000" stroke-width="1.3" /><path d="M534,735 L538,728 L545,728 L548,734 L546,740 L539,742 Z" fill="#fff" stroke="#000" stroke-width="1.6" /><circle cx="541.5" cy="734.5" r="3" fill="#fff" stroke="#000" stroke-width="1.2"/><path d="M684,517 C676,514 668,512 660,517 C650,525 642,545 637,562 L630,594" fill="none" stroke="#000" stroke-width="3.6" stroke-linecap="round" stroke-linejoin="round"/><path d="M684,517 C676,514 668,512 660,517 C650,525 642,545 637,562 L630,594" fill="none" stroke="#fff" stroke-width="1.4" stroke-linecap="round" stroke-linejoin="round"/><path d="M662,515 C676,518 678,540 670,556 C664,570 650,578 644,573 C638,566 641,548 648,536 C652,528 658,522 664,518" fill="none" stroke="#000" stroke-width="3.6" stroke-linecap="round" stroke-linejoin="round"/><path d="M662,515 C676,518 678,540 670,556 C664,570 650,578 644,573 C638,566 641,548 648,536 C652,528 658,522 664,518" fill="none" stroke="#fff" stroke-width="1.4" stroke-linecap="round" stroke-linejoin="round"/><path d="M684,515 L696,519 L695,525 L683,522 Z" fill="#fff" stroke="#000" stroke-width="1.2" /><ellipse cx="699" cy="521.5" rx="3" ry="3.5" fill="#fff" stroke="#000" stroke-width="1.3"/><path d="M625,595 L632,597 L627,620 L620,618 Z" fill="#fff" stroke="#000" stroke-width="1.2" /><path d="M624,599 L632,601 M623,602 L631,604 M622,605 L630,607 M621.5,608 L629.5,610 M621,611 L629,613 M620.5,614 L628,616" fill="none" stroke="#000" stroke-width="1.1" /><path d="M614,620 L626,617 L632,622 L630,640 L620,643 L612,638 Z" fill="#fff" stroke="#000" stroke-width="1.5" /><path d="M613,625 L631,628 M612,632 L630,635 M620,621 L619,643" fill="none" stroke="#000" stroke-width="1.0" /><path d="M615,643 L620,642 L619,648 L615,648 Z" fill="#fff" stroke="#000" stroke-width="1.1" /><path d="M617,648 L610,665" fill="none" stroke="#000" stroke-width="1.2" /><path d="M604,664 L613,666 L605,693 L599,691 Z" fill="#fff" stroke="#000" stroke-width="1.2" /><path d="M603,668 L613,670 M602,672 L612,674 M601,676 L611,678 M600,680 L610,682 M599.5,684 L609,686 M599,688 L607,690" fill="none" stroke="#000" stroke-width="1.3" /><path d="M601,693 L596,707" fill="none" stroke="#000" stroke-width="1.1" /><path d="M591.5,708 L597.5,706 L599.5,713 L593.5,716 Z" fill="#fff" stroke="#000" stroke-width="1.3" /><path d="M713,509 L716,507 L720,508 L721,514 L717,516 L713,515 Z" fill="#fff" stroke="#000" stroke-width="1.5" /><path d="M720,510 L734,512.5 L733.5,517 L719.5,514.5 Z" fill="#fff" stroke="#000" stroke-width="1.2" /><path d="M723,510.5 L722.5,515 M726,511 L725.5,515.5 M729,511.5 L728.5,516 M732,512 L731.5,516.5" fill="none" stroke="#000" stroke-width="1.3" /><ellipse cx="742" cy="516" rx="5" ry="7" transform="rotate(-15 742 516)" fill="#fff" stroke="#000" stroke-width="2.0"/><ellipse cx="742.5" cy="516" rx="2" ry="3.5" transform="rotate(-15 742.5 516)" fill="#fff" stroke="#000" stroke-width="1.2"/><path d="M774,528.5 L788,527.2 L788.5,536 L774,536 C771.5,535.5 770.5,533.5 770.8,532 C771,530 772,528.8 774,528.5 Z" fill="#fff" stroke="#000" stroke-width="1.3" /><ellipse cx="788.2" cy="531.6" rx="3" ry="4.4" fill="#fff" stroke="#000" stroke-width="1.4"/><path d="M771,530 L768,530.5 M771,534 L768.5,533.5" fill="none" stroke="#000" stroke-width="1.0" /><ellipse cx="823.7" cy="558.5" rx="4.8" ry="3.6" fill="#fff" stroke="#000" stroke-width="1.5"/><ellipse cx="823.7" cy="558.2" rx="2" ry="1.5" fill="#fff" stroke="#000" stroke-width="1.0"/><path d="M822.5,562 L825,562 L824.5,566 L823,566 Z" fill="#fff" stroke="#000" stroke-width="1" /><ellipse cx="816.7" cy="474" rx="4.5" ry="2.8" fill="#fff" stroke="#000" stroke-width="1.4"/><path d="M813,474 L813,478 L820.5,478 L820.5,474" fill="none" stroke="#000" stroke-width="1.3" /><path d="M816.7,478 V492" fill="none" stroke="#000" stroke-width="4.2" stroke-linecap="round" stroke-linejoin="round"/><path d="M816.7,478 V492" fill="none" stroke="#fff" stroke-width="2.2" stroke-linecap="round" stroke-linejoin="round"/><path d="M884,470 L918,472.5" fill="none" stroke="#000" stroke-width="2.2" /><line x1="863.5" y1="480" x2="877" y2="473.5" stroke="#000" stroke-width="5.5" stroke-linecap="round"/><line x1="863.5" y1="480" x2="877" y2="473.5" stroke="#fff" stroke-width="3.5" stroke-linecap="round" /><line x1="863.5" y1="480" x2="877" y2="473.5" stroke="#000" stroke-width="3.3" stroke-dasharray="1 1.6" /><ellipse cx="881.7" cy="469.5" rx="5" ry="4.5" transform="rotate(-20 881.7 469.5)" fill="#fff" stroke="#000" stroke-width="1.6"/><ellipse cx="882.2" cy="469.5" rx="2.2" ry="2" fill="#fff" stroke="#000" stroke-width="1.0"/><line x1="901.2" y1="485" x2="915" y2="478" stroke="#000" stroke-width="5.5" stroke-linecap="round"/><line x1="901.2" y1="485" x2="915" y2="478" stroke="#fff" stroke-width="3.5" stroke-linecap="round" /><line x1="901.2" y1="485" x2="915" y2="478" stroke="#000" stroke-width="3.3" stroke-dasharray="1 1.6" /><ellipse cx="920.7" cy="473.5" rx="5" ry="4.5" transform="rotate(-20 920.7 473.5)" fill="#fff" stroke="#000" stroke-width="1.6"/><ellipse cx="921.2" cy="473.5" rx="2.2" ry="2" fill="#fff" stroke="#000" stroke-width="1.0"/><path d="M795.6,526 L807.6,514.8 L814,511.6 L823.6,510.8 L836,520 L842.8,529.2 L866.8,526 L879.6,527.6 L930.8,545.2 C935,547 937,551 936.4,555 C935.5,560 932,562 927,561 C924,560 922.8,556 922.8,551.6 L892.4,542 L866.8,537.2 L836.4,543.6 L806,540.4 L796.4,541.2 Z" fill="#fff" stroke="#000" stroke-width="1.7" /><path d="M807.6,533.2 L836.4,535 L866.8,531 L892.4,537 L922.8,550 M806,538 L836.4,541 L866.8,535 L892.4,540 L920,549" fill="none" stroke="#000" stroke-width="1.3" /><path d="M809,536 L836,539 M868,533.5 L890,538.5 M895,540 L918,548.5" fill="none" stroke="#000" stroke-width="2.0" stroke-dasharray="1.5 1.5"/><path d="M816.4,525.2 C822,522 832,523 842.8,529.2 M807.6,531.6 L816.4,525.2" fill="none" stroke="#000" stroke-width="1.2" /><ellipse cx="817" cy="514.5" rx="2.2" ry="1.3" transform="rotate(-10 817 514.5)" fill="#fff" stroke="#000" stroke-width="1.2"/><path d="M834.4,496.3 L845.8,484.9 C847,484 848.5,484 849.6,484.5 L855.7,490.2 C858,493 859.5,496 860.3,498.6 C861.5,502 862,504 861.8,505.5 C861.5,508 861,510 860.3,511.6 L855.7,517.6 L849.6,524.5 L842.7,528.3 L841.2,528.3 Z" fill="#fff" stroke="#000" stroke-width="1.7" /><ellipse cx="854.2" cy="505.5" rx="4.6" ry="8.4" transform="rotate(5 854.2 505.5)" fill="#fff" stroke="#000" stroke-width="1.7"/><path d="M834.4,496.3 C836,494 841,493.5 843.5,497 L843.5,507 M851,487 L846,497 M853.5,489 L848.5,499 M839,511.6 L849.6,502.4 M849,519 L853,515 M851.5,517 L855,513" fill="none" stroke="#000" stroke-width="1.2" /><path d="M821.8,501.3 L822.8,519.2 C825,521.5 835,521.5 838.2,520 L835.1,501.7 Z" fill="#fff" stroke="#000" stroke-width="1.6" /><ellipse cx="828.4" cy="501.3" rx="6.4" ry="3.2" transform="rotate(-3 828.4 501.3)" fill="#fff" stroke="#000" stroke-width="1.7"/><ellipse cx="828.4" cy="501.3" rx="4.2" ry="1.8" transform="rotate(-3 828.4 501.3)" fill="#fff" stroke="#000" stroke-width="1.0"/><g fill="none" stroke="#000" stroke-width="2.6"><path d="M215.4,56.6V67"/><path d="M262,73.6V86"/><path d="M322,131.2H340"/><path d="M410.8,181.6V191"/><path d="M534.9,33V43"/><path d="M798.7,54.7V66.7"/><path d="M598.2,161.5V173.7H617.2M617.2,164.6V179.8"/><path d="M709.9,186V197.3H728M728,188V204"/><path d="M344,263V271"/><path d="M353,300V311"/><path d="M394,355.5H409"/><path d="M723.75,277V288.75"/><path d="M917.2,327.2V342.8"/><path d="M822.4,351.2V364.4"/><path d="M710,376V382.5"/><path d="M723,410V417"/><path d="M966.4,386V393.2"/><path d="M199.3,424.7V445"/><path d="M306.8,450.4V462.2"/><path d="M247.7,550.4H261.5"/><path d="M82.4,591V604"/><path d="M173,628V637"/><path d="M207,678H218"/><path d="M216,703.6H228"/><path d="M166.8,473V485.6"/><path d="M216.5,503.5V553"/><path d="M148.3,509.3H157"/><path d="M113.6,531H123"/><path d="M443,446V460"/><path d="M496,457V470"/><path d="M526,475V489"/><path d="M496,567.4H507"/><path d="M632.4,594.4H645"/><path d="M537.2,713.8V727.7"/><path d="M502,736V749.8"/><path d="M462.5,772H470"/><path d="M920.7,460V469"/><path d="M803.7,485H812.8"/><path d="M715.9,497V507.5"/><path d="M810,502.3H822"/><path d="M861,502.8H872.6"/><path d="M740.3,522V532"/><path d="M781.6,535.3V550.9"/><path d="M894.7,544.4V554.8"/><path d="M823.7,565.2V574.3"/><path d="M92.2,494.4H131.5V445H265.2V532.5H386.6V582.3H255.6V608H141.5V554.8H156V520H92.2Z" stroke-width="2.8"/></g>
<g font-size="19.7"><text x="189.5" y="48.0">93700</text><text x="246.0" y="68.5">53104</text><text x="348.0" y="137.6">53140</text><text x="383.4" y="175.2">3515A</text><text x="506.0" y="25.1">88110</text><text x="769.7" y="44.5">88120</text><text x="590.3" y="198.8">90215</text><text x="701.7" y="224.0">90215</text><text x="255.8" y="261.5">93500-05016</text><text x="275.5" y="328.4">93500-05025</text><text x="340.0" y="362.6" letter-spacing="-1.25">17910</text><text x="695.2" y="269.5">3520A</text><text x="888.6" y="318.3">53104</text><text x="794.5" y="386.0">53166</text><text x="622.0" y="374.2">93500-05032</text><text x="622.0" y="432.8">93500-05045</text><text x="939.0" y="412.4">93700</text><text x="279.8" y="442.6">96001</text><text x="269.4" y="556.7">45517-KFAF</text><text x="54.1" y="629.6">53175</text><text x="124.0" y="657.6">94050-06000</text><text x="83.0" y="684.0">35340-KNBN</text><text x="162.6" y="712.0">93893</text><text x="478.6" y="452.0">90545</text><text x="519.0" y="469.4">90145</text><text x="395.0" y="479.4">90545</text><text x="514.0" y="574.6">45126</text><text x="645.7" y="601.7">22870</text><text x="508.0" y="705.5">90145</text><text x="480.3" y="730.4">90545</text><text x="401.4" y="778.9">90545</text><text x="894.5" y="452.1">96001</text><text x="748.9" y="491.9">90113</text><text x="677.4" y="494.8">53192</text><text x="755.1" y="509.3">53172</text><text x="882.0" y="509.3">45517-GFY6</text><text x="711.7" y="548.7">90321</text><text x="700.5" y="570.7">35340-GFY6</text><text x="865.9" y="569.9">53178</text><text x="758.5" y="594.3">94050-06000</text></g><g font-size="17.7"><text x="175.1" y="415.6">45530</text><text x="143.1" y="467.3">93600</text><text x="209.8" y="498.2">45520</text><text x="96.3" y="515.6">45513</text><text x="63.1" y="538.0">90114</text></g>
</svg></body></html>
